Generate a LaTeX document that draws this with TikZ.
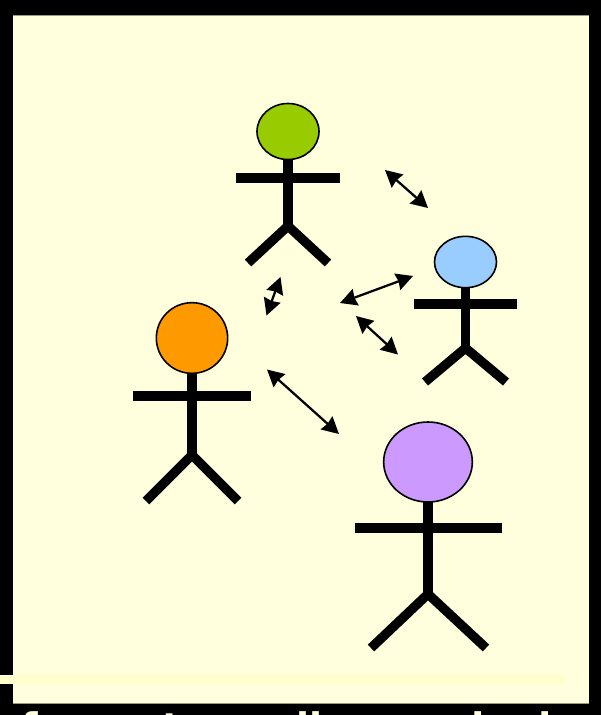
\documentclass[tikz,border=0pt]{standalone}
\usepackage{fontspec}
\setmainfont{DejaVu Sans}
\usetikzlibrary{arrows.meta,shapes.geometric}
\definecolor{panelc}{HTML}{FFFFDD}
\definecolor{stripc}{HTML}{FFFFCC}
\definecolor{edgec}{HTML}{9A9A80}
\tikzset{
  x=0.75pt,y=-0.75pt,
  head/.style={ellipse,draw=black,line width=1.2pt,inner sep=0pt},
  limb/.style={line width=7pt,black},
  tipa/.tip={Stealth[length=12.5pt,width=13pt,inset=1pt]},
  link/.style={line width=1.7pt,black,tipa-tipa},
  cut/.style={font=\bfseries\fontsize{28.5pt}{30pt}\selectfont,text=panelc,inner sep=0pt,outer sep=0pt}
}
\begin{document}
\begin{tikzpicture}
\useasboundingbox (0,0) rectangle (601,715);
\clip (0,0) rectangle (601,715);
\fill[black] (0,0) rectangle (601,715);
\fill[edgec] (13,15) rectangle (589,704);
\fill[panelc] (13,16) rectangle (589,703);
\fill[stripc] (0,675) rectangle (565,684);
% cropped caption
\node[cut,anchor=base] (tf) at (30,740) {f};
\node[cut,anchor=base] (tt) at (172,740) {t};
\node[cut,anchor=base] (tl) at (303,740) {l};
\node[cut,anchor=base] (tm) at (316.5,740) {l};
\node[cut,anchor=base east] (td) at (485,740) {d};
\node[cut,anchor=base east] (te) at (552,740) {d};
% green figure
\coordinate (gn) at (288,160);
\coordinate (gh) at (288,226);
\coordinate (gal) at (236,178); \coordinate (gar) at (340,178);
\coordinate (gfl) at (248,263); \coordinate (gfr) at (328,263);
\draw[limb] (gn) -- (gh);
\draw[limb] (gal) -- (gar);
\draw[limb] (gfl) -- (gh) -- (gfr);
\node[head,fill={rgb,255:red,153;green,204;blue,0},minimum width=46.5pt,minimum height=42pt] (g) at (288,131.5) {};
% blue figure
\coordinate (bn) at (465.5,288);
\coordinate (bh) at (465.5,348);
\coordinate (bal) at (414,304); \coordinate (bar) at (517,304);
\coordinate (bfl) at (425,382); \coordinate (bfr) at (506,382);
\draw[limb] (bn) -- (bh);
\draw[limb] (bal) -- (bar);
\draw[limb] (bfl) -- (bh) -- (bfr);
\node[head,fill={rgb,255:red,153;green,204;blue,255},minimum width=46.5pt,minimum height=38.5pt] (b) at (465.5,262) {};
% orange figure
\coordinate (on) at (192,373);
\coordinate (oh) at (192,455);
\coordinate (oal) at (133,396); \coordinate (oar) at (251,396);
\coordinate (ofl) at (146,501); \coordinate (ofr) at (238,501);
\draw[limb] (on) -- (oh);
\draw[limb] (oal) -- (oar);
\draw[limb] (ofl) -- (oh) -- (ofr);
\node[head,fill={rgb,255:red,255;green,153;blue,0},minimum width=53.5pt,minimum height=53pt] (o) at (192,338) {};
% purple figure
\coordinate (pn) at (428,502);
\coordinate (ph) at (428,594);
\coordinate (pal) at (355,528); \coordinate (par) at (502,528);
\coordinate (pfl) at (371,648); \coordinate (pfr) at (486,648);
\draw[limb] (pn) -- (ph);
\draw[limb] (pal) -- (par);
\draw[limb] (pfl) -- (ph) -- (pfr);
\node[head,fill={rgb,255:red,204;green,153;blue,255},minimum width=66.5pt,minimum height=60pt] (p) at (428,462) {};
% links
\coordinate (a1) at (385,170); \coordinate (a2) at (428,208);
\coordinate (b1) at (340,303); \coordinate (b2) at (413,276);
\coordinate (c1) at (280.5,277); \coordinate (c2) at (266.5,315.5);
\coordinate (d1) at (356,316); \coordinate (d2) at (398,354.5);
\coordinate (e1) at (267,369.5); \coordinate (e2) at (339,434);
\draw[link] (a1) -- (a2);
\draw[link] (b1) -- (b2);
\draw[link] (c1) -- (c2);
\draw[link] (d1) -- (d2);
\draw[link] (e1) -- (e2);
\end{tikzpicture}
\end{document}
